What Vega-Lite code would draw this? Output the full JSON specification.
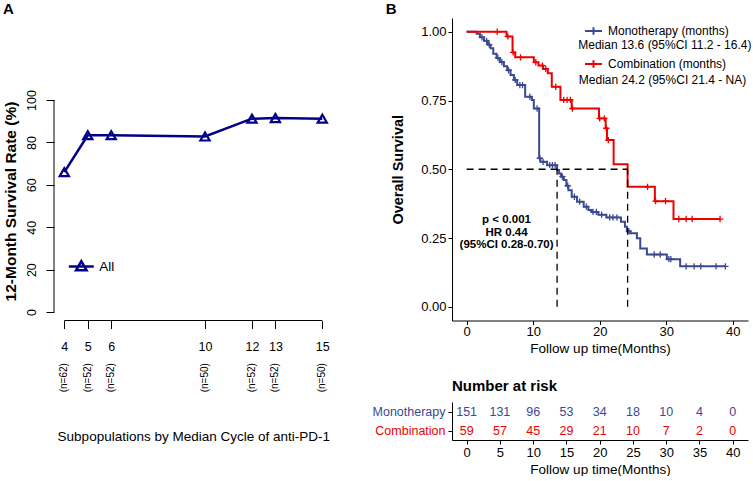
{
  "$schema": "https://vega.github.io/schema/vega-lite/v6.json",
  "padding": {"left": 2, "top": 2, "right": 0, "bottom": 0},
  "background": "white",
  "config": {
    "font": "Liberation Sans",
    "view": {"stroke": null},
    "axis": {"grid": false, "domainColor": "black", "tickColor": "black", "labelColor": "black", "titleColor": "black"},
    "legend": {"padding": 0},
    "title": {"color": "black"}
  },
  "datasets": {
    "surv12": [
      {"cycle": 4, "rate": 66.0, "nlab": "(n=62)"},
      {"cycle": 5, "rate": 83.4, "nlab": "(n=52)"},
      {"cycle": 6, "rate": 83.4, "nlab": "(n=52)"},
      {"cycle": 10, "rate": 82.8, "nlab": "(n=50)"},
      {"cycle": 12, "rate": 91.2, "nlab": "(n=52)"},
      {"cycle": 13, "rate": 91.5, "nlab": "(n=52)"},
      {"cycle": 15, "rate": 91.2, "nlab": "(n=50)"}
    ],
    "km": [
      {"group": "Monotherapy", "time": 0, "surv": 1.0},
      {"group": "Monotherapy", "time": 1.5, "surv": 0.993},
      {"group": "Monotherapy", "time": 2.0, "surv": 0.98},
      {"group": "Monotherapy", "time": 2.6, "surv": 0.967},
      {"group": "Monotherapy", "time": 3.2, "surv": 0.953},
      {"group": "Monotherapy", "time": 3.6, "surv": 0.94},
      {"group": "Monotherapy", "time": 4.0, "surv": 0.92},
      {"group": "Monotherapy", "time": 4.5, "surv": 0.905},
      {"group": "Monotherapy", "time": 5.0, "surv": 0.89},
      {"group": "Monotherapy", "time": 5.6, "surv": 0.875},
      {"group": "Monotherapy", "time": 6.1, "surv": 0.86},
      {"group": "Monotherapy", "time": 6.6, "surv": 0.843},
      {"group": "Monotherapy", "time": 7.1, "surv": 0.825},
      {"group": "Monotherapy", "time": 7.6, "surv": 0.806},
      {"group": "Monotherapy", "time": 8.8, "surv": 0.764},
      {"group": "Monotherapy", "time": 9.8, "surv": 0.752},
      {"group": "Monotherapy", "time": 10.1, "surv": 0.721},
      {"group": "Monotherapy", "time": 10.9, "surv": 0.54},
      {"group": "Monotherapy", "time": 11.1, "surv": 0.527},
      {"group": "Monotherapy", "time": 12.1, "surv": 0.515},
      {"group": "Monotherapy", "time": 13.6, "surv": 0.497},
      {"group": "Monotherapy", "time": 13.9, "surv": 0.485},
      {"group": "Monotherapy", "time": 14.2, "surv": 0.473},
      {"group": "Monotherapy", "time": 14.6, "surv": 0.461},
      {"group": "Monotherapy", "time": 15.0, "surv": 0.44},
      {"group": "Monotherapy", "time": 15.3, "surv": 0.424},
      {"group": "Monotherapy", "time": 15.8, "surv": 0.4},
      {"group": "Monotherapy", "time": 16.6, "surv": 0.382},
      {"group": "Monotherapy", "time": 17.6, "surv": 0.364},
      {"group": "Monotherapy", "time": 18.3, "surv": 0.352},
      {"group": "Monotherapy", "time": 18.8, "surv": 0.345},
      {"group": "Monotherapy", "time": 19.8, "surv": 0.335},
      {"group": "Monotherapy", "time": 21.0, "surv": 0.325},
      {"group": "Monotherapy", "time": 23.2, "surv": 0.309},
      {"group": "Monotherapy", "time": 23.8, "surv": 0.291},
      {"group": "Monotherapy", "time": 24.1, "surv": 0.275},
      {"group": "Monotherapy", "time": 24.6, "surv": 0.267},
      {"group": "Monotherapy", "time": 25.6, "surv": 0.249},
      {"group": "Monotherapy", "time": 26.1, "surv": 0.212},
      {"group": "Monotherapy", "time": 27.1, "surv": 0.19},
      {"group": "Monotherapy", "time": 30.1, "surv": 0.173},
      {"group": "Monotherapy", "time": 32.1, "surv": 0.147},
      {"group": "Monotherapy", "time": 38.9, "surv": 0.147},
      {"group": "Combination", "time": 0, "surv": 1.0},
      {"group": "Combination", "time": 6.0, "surv": 0.983},
      {"group": "Combination", "time": 6.9, "surv": 0.925},
      {"group": "Combination", "time": 7.3, "surv": 0.907},
      {"group": "Combination", "time": 10.1, "surv": 0.889},
      {"group": "Combination", "time": 10.8, "surv": 0.877},
      {"group": "Combination", "time": 11.5, "surv": 0.865},
      {"group": "Combination", "time": 12.2, "surv": 0.849},
      {"group": "Combination", "time": 12.8, "surv": 0.8},
      {"group": "Combination", "time": 14.1, "surv": 0.752},
      {"group": "Combination", "time": 15.8, "surv": 0.721},
      {"group": "Combination", "time": 19.9, "surv": 0.685},
      {"group": "Combination", "time": 20.9, "surv": 0.649},
      {"group": "Combination", "time": 21.1, "surv": 0.606},
      {"group": "Combination", "time": 22.1, "surv": 0.518},
      {"group": "Combination", "time": 24.2, "surv": 0.436},
      {"group": "Combination", "time": 28.3, "surv": 0.384},
      {"group": "Combination", "time": 31.1, "surv": 0.319},
      {"group": "Combination", "time": 38.1, "surv": 0.319}
    ],
    "censor": [
      {"group": "Monotherapy", "time": 2.3, "surv": 0.98},
      {"group": "Monotherapy", "time": 3.0, "surv": 0.967},
      {"group": "Monotherapy", "time": 3.4, "surv": 0.953},
      {"group": "Monotherapy", "time": 4.7, "surv": 0.905},
      {"group": "Monotherapy", "time": 5.3, "surv": 0.89},
      {"group": "Monotherapy", "time": 6.3, "surv": 0.86},
      {"group": "Monotherapy", "time": 7.3, "surv": 0.825},
      {"group": "Monotherapy", "time": 8.0, "surv": 0.806},
      {"group": "Monotherapy", "time": 8.4, "surv": 0.806},
      {"group": "Monotherapy", "time": 9.5, "surv": 0.764},
      {"group": "Monotherapy", "time": 10.6, "surv": 0.721},
      {"group": "Monotherapy", "time": 11.0, "surv": 0.54},
      {"group": "Monotherapy", "time": 11.5, "surv": 0.527},
      {"group": "Monotherapy", "time": 12.5, "surv": 0.515},
      {"group": "Monotherapy", "time": 12.9, "surv": 0.515},
      {"group": "Monotherapy", "time": 13.3, "surv": 0.515},
      {"group": "Monotherapy", "time": 14.4, "surv": 0.473},
      {"group": "Monotherapy", "time": 15.2, "surv": 0.44},
      {"group": "Monotherapy", "time": 16.2, "surv": 0.4},
      {"group": "Monotherapy", "time": 17.0, "surv": 0.382},
      {"group": "Monotherapy", "time": 18.0, "surv": 0.364},
      {"group": "Monotherapy", "time": 19.0, "surv": 0.345},
      {"group": "Monotherapy", "time": 19.5, "surv": 0.345},
      {"group": "Monotherapy", "time": 20.3, "surv": 0.335},
      {"group": "Monotherapy", "time": 21.5, "surv": 0.325},
      {"group": "Monotherapy", "time": 22.0, "surv": 0.325},
      {"group": "Monotherapy", "time": 22.6, "surv": 0.325},
      {"group": "Monotherapy", "time": 24.4, "surv": 0.275},
      {"group": "Monotherapy", "time": 28.2, "surv": 0.19},
      {"group": "Monotherapy", "time": 29.1, "surv": 0.19},
      {"group": "Monotherapy", "time": 30.4, "surv": 0.173},
      {"group": "Monotherapy", "time": 30.7, "surv": 0.173},
      {"group": "Monotherapy", "time": 33.0, "surv": 0.147},
      {"group": "Monotherapy", "time": 34.2, "surv": 0.147},
      {"group": "Monotherapy", "time": 35.2, "surv": 0.147},
      {"group": "Monotherapy", "time": 37.5, "surv": 0.147},
      {"group": "Monotherapy", "time": 38.9, "surv": 0.147},
      {"group": "Combination", "time": 4.6, "surv": 1.0},
      {"group": "Combination", "time": 6.2, "surv": 0.983},
      {"group": "Combination", "time": 7.0, "surv": 0.925},
      {"group": "Combination", "time": 8.1, "surv": 0.907},
      {"group": "Combination", "time": 10.4, "surv": 0.889},
      {"group": "Combination", "time": 11.4, "surv": 0.877},
      {"group": "Combination", "time": 11.9, "surv": 0.865},
      {"group": "Combination", "time": 13.4, "surv": 0.8},
      {"group": "Combination", "time": 14.6, "surv": 0.752},
      {"group": "Combination", "time": 15.1, "surv": 0.752},
      {"group": "Combination", "time": 15.6, "surv": 0.752},
      {"group": "Combination", "time": 15.9, "surv": 0.721},
      {"group": "Combination", "time": 20.0, "surv": 0.685},
      {"group": "Combination", "time": 20.7, "surv": 0.685},
      {"group": "Combination", "time": 21.0, "surv": 0.649},
      {"group": "Combination", "time": 21.3, "surv": 0.606},
      {"group": "Combination", "time": 27.2, "surv": 0.436},
      {"group": "Combination", "time": 28.4, "surv": 0.384},
      {"group": "Combination", "time": 29.9, "surv": 0.384},
      {"group": "Combination", "time": 31.9, "surv": 0.319},
      {"group": "Combination", "time": 33.0, "surv": 0.319},
      {"group": "Combination", "time": 33.9, "surv": 0.319},
      {"group": "Combination", "time": 38.1, "surv": 0.319}
    ],
    "medians": [
      {"group": "Monotherapy", "median": 13.6},
      {"group": "Combination", "median": 24.2}
    ],
    "risk": [
      {"group": "Monotherapy", "time": 0, "n": 151},
      {"group": "Monotherapy", "time": 5, "n": 131},
      {"group": "Monotherapy", "time": 10, "n": 96},
      {"group": "Monotherapy", "time": 15, "n": 53},
      {"group": "Monotherapy", "time": 20, "n": 34},
      {"group": "Monotherapy", "time": 25, "n": 18},
      {"group": "Monotherapy", "time": 30, "n": 10},
      {"group": "Monotherapy", "time": 35, "n": 4},
      {"group": "Monotherapy", "time": 40, "n": 0},
      {"group": "Combination", "time": 0, "n": 59},
      {"group": "Combination", "time": 5, "n": 57},
      {"group": "Combination", "time": 10, "n": 45},
      {"group": "Combination", "time": 15, "n": 29},
      {"group": "Combination", "time": 20, "n": 21},
      {"group": "Combination", "time": 25, "n": 10},
      {"group": "Combination", "time": 30, "n": 7},
      {"group": "Combination", "time": 35, "n": 2},
      {"group": "Combination", "time": 40, "n": 0}
    ]
  },
  "resolve": {"scale": {"color": "independent"}, "legend": {"color": "independent"}},
  "bounds": "flush",
  "spacing": 119,
  "hconcat": [
    {
      "width": 278.6,
      "height": 302.5,
      "title": {"text": "A", "anchor": "start", "frame": "bounds", "fontSize": 15, "fontWeight": "bold", "offset": 1},
      "data": {"name": "surv12"},
      "layer": [
        {
          "mark": {"type": "line", "strokeWidth": 2.5},
          "encoding": {
            "x": {"field": "cycle", "type": "quantitative",
              "scale": {"domain": [3.56, 15.44], "nice": false, "zero": false},
              "axis": {"values": [4, 5, 6, 10, 12, 13, 15], "domain": false, "tickSize": 8, "labelFontSize": 12.5, "labelPadding": 12,
                "title": "Subpopulations by Median Cycle of anti-PD-1", "titleFontSize": 13.5, "titleFontWeight": "normal", "titlePadding": 76}},
            "y": {"field": "rate", "type": "quantitative",
              "scale": {"domain": [-4, 138.7], "nice": false, "zero": false},
              "axis": {"values": [0, 20, 40, 60, 80, 100], "domain": false, "tickSize": 8, "labelFontSize": 12.5, "labelAngle": 270, "labelAlign": "center", "labelBaseline": "bottom", "labelPadding": 8,
                "title": "12-Month Survival Rate (%)", "titleFontSize": 15.5, "titleFontWeight": "bold", "titlePadding": 7, "titleY": 183}},
            "color": {"datum": "All", "scale": {"range": ["#00008B"]},
              "legend": {"orient": "none", "legendX": 13.3, "legendY": 234.5, "title": null,
                "symbolType": "M-1,0H1M0,-0.42L0.42,0.3L-0.42,0.3Z", "symbolSize": 625, "symbolStrokeWidth": 2.5,
                "symbolFillColor": "white", "labelFontSize": 13.5, "labelOffset": 4, "labelColor": "black"}}
          }
        },
        {
          "mark": {"type": "point", "shape": "triangle-up", "filled": false, "strokeWidth": 2.2, "size": 85, "color": "#00008B", "opacity": 1},
          "encoding": {
            "x": {"field": "cycle", "type": "quantitative"},
            "y": {"field": "rate", "type": "quantitative"}
          }
        },
        {
          "mark": {"type": "text", "angle": 270, "fontSize": 10, "color": "black", "align": "center", "baseline": "middle"},
          "encoding": {
            "x": {"field": "cycle", "type": "quantitative"},
            "y": {"datum": -31},
            "text": {"field": "nlab"}
          }
        },
        {
          "data": {"values": [{}]},
          "mark": {"type": "rule", "color": "black", "strokeWidth": 1},
          "encoding": {"x": {"datum": 3.56}, "y": {"datum": 0}, "y2": {"datum": 100}}
        },
        {
          "data": {"values": [{}]},
          "mark": {"type": "rule", "color": "black", "strokeWidth": 1},
          "encoding": {"x": {"datum": 4}, "x2": {"datum": 15}, "y": {"datum": -4}}
        }
      ]
    },
    {
      "bounds": "flush",
      "spacing": 81,
      "resolve": {"scale": {"color": "independent"}, "legend": {"color": "independent"}},
      "vconcat": [
        {
          "width": 296,
          "height": 302.5,
          "title": {"text": "B", "anchor": "start", "frame": "bounds", "fontSize": 15, "fontWeight": "bold", "offset": 1, "dx": -5},
          "layer": [
            {
              "data": {"name": "km"},
              "mark": {"type": "line", "interpolate": "step-after", "strokeWidth": 2},
              "encoding": {
                "x": {"field": "time", "type": "quantitative",
                  "scale": {"domain": [-2.2, 42.3], "nice": false, "zero": false},
                  "axis": {"values": [0, 5, 10, 15, 20, 25, 30, 35, 40], "tickSize": 4, "labelFontSize": 13, "labelPadding": 1,
                    "title": "Follow up time(Months)", "titleFontSize": 13.5, "titleFontWeight": "normal", "titlePadding": 3}},
                "y": {"field": "surv", "type": "quantitative",
                  "scale": {"domain": [-0.05, 1.05], "nice": false, "zero": false},
                  "axis": {"values": [0, 0.25, 0.5, 0.75, 1], "format": ".2f", "tickSize": 4, "labelFontSize": 13, "labelPadding": 2,
                    "title": "Overall Survival", "titleFontSize": 14.5, "titleFontWeight": "bold", "titlePadding": 15}},
                "color": {"field": "group", "type": "nominal",
                  "scale": {"domain": ["Monotherapy", "Combination"], "range": ["#3B4992", "#EE0000"]},
                  "legend": {"orient": "none", "legendX": 132, "legendY": 3.5, "title": null,
                    "symbolType": "M-1,0H1M0,-0.45V0.45", "symbolSize": 289, "symbolStrokeWidth": 2,
                    "labelFontSize": 12, "labelOffset": 5, "rowPadding": 15, "labelColor": "black",
                    "labelExpr": "datum.label + ' (months)'"}}
              }
            },
            {
              "data": {"name": "censor"},
              "mark": {"type": "point", "shape": "M-1,0H1M0,-1V1", "size": 40, "strokeWidth": 1.3, "filled": false, "opacity": 1},
              "encoding": {
                "x": {"field": "time", "type": "quantitative"},
                "y": {"field": "surv", "type": "quantitative"},
                "color": {"field": "group", "type": "nominal"}
              }
            },
            {
              "data": {"values": [{}]},
              "mark": {"type": "rule", "color": "black", "strokeWidth": 1.3, "strokeDash": [7, 5]},
              "encoding": {"x": {"datum": 0}, "x2": {"datum": 24.2}, "y": {"datum": 0.5}}
            },
            {
              "data": {"name": "medians"},
              "mark": {"type": "rule", "color": "black", "strokeWidth": 1.3, "strokeDash": [7, 5]},
              "encoding": {"x": {"field": "median", "type": "quantitative"}, "y": {"datum": 0}, "y2": {"datum": 0.5}}
            },
            {
              "data": {"values": [{}]},
              "mark": {"type": "text", "fontSize": 11.5, "fontWeight": "bold", "color": "black", "align": "center", "baseline": "middle", "lineBreak": "\n", "lineHeight": 12.6},
              "encoding": {"x": {"datum": 6.0}, "y": {"datum": 0.315}, "text": {"value": "p < 0.001\nHR 0.44\n(95%CI 0.28-0.70)"}}
            },
            {
              "data": {"values": [{}]},
              "mark": {"type": "text", "fontSize": 12, "color": "black", "align": "center", "baseline": "middle"},
              "encoding": {"x": {"datum": 29.8}, "y": {"datum": 0.952}, "text": {"value": "Median 13.6 (95%CI 11.2 - 16.4)"}}
            },
            {
              "data": {"values": [{}]},
              "mark": {"type": "text", "fontSize": 12, "color": "black", "align": "center", "baseline": "middle"},
              "encoding": {"x": {"datum": 29.45}, "y": {"datum": 0.824}, "text": {"value": "Median 24.2 (95%CI 21.4 - NA)"}}
            }
          ]
        },
        {
          "width": 296,
          "height": 38,
          "title": {"text": "Number at risk", "anchor": "start", "frame": "group", "fontSize": 15, "fontWeight": "bold", "offset": 8},
          "data": {"name": "risk"},
          "mark": {"type": "text", "fontSize": 12.5},
          "encoding": {
            "x": {"field": "time", "type": "quantitative",
              "scale": {"domain": [-2.2, 42.3], "nice": false, "zero": false},
              "axis": {"values": [0, 5, 10, 15, 20, 25, 30, 35, 40], "tickSize": 4, "labelFontSize": 13, "labelPadding": 2,
                "title": "Follow up time(Months)", "titleFontSize": 13.5, "titleFontWeight": "normal", "titlePadding": 3}},
            "y": {"field": "group", "type": "nominal", "sort": ["Monotherapy", "Combination"],
              "axis": {"title": null, "tickSize": 4, "labelPadding": 3, "labelFontSize": 12.5,
                "labelColor": {"condition": {"test": "datum.value === 'Monotherapy'", "value": "#3B4992"}, "value": "#EE0000"}}},
            "text": {"field": "n", "type": "quantitative"},
            "color": {"field": "group", "type": "nominal",
              "scale": {"domain": ["Monotherapy", "Combination"], "range": ["#3B4992", "#EE0000"]}, "legend": null}
          }
        }
      ]
    }
  ]
}
